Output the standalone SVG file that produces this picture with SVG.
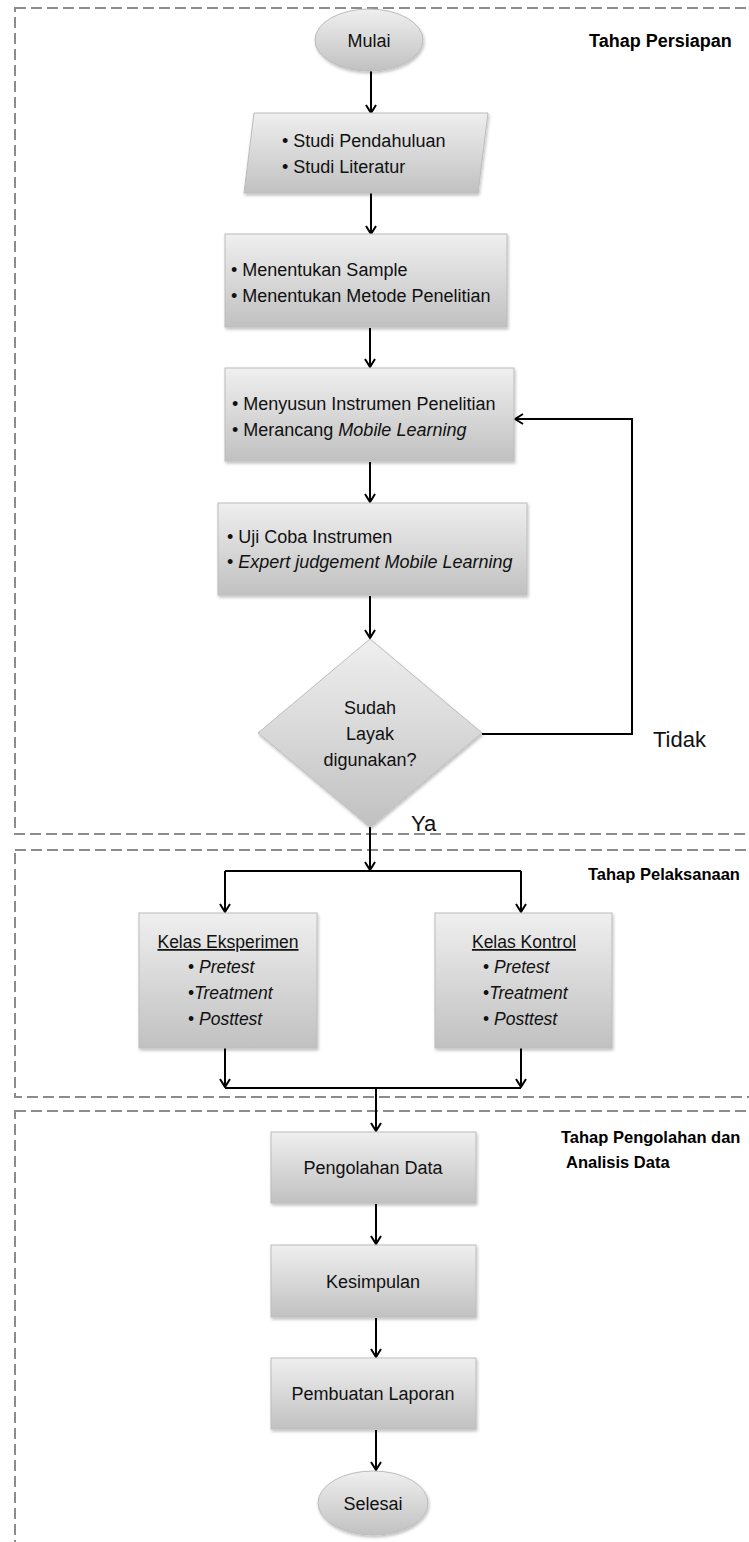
<svg xmlns="http://www.w3.org/2000/svg" width="749" height="1542" viewBox="0 0 749 1542">
<style>
.t{font-family:"Liberation Sans",Arial,sans-serif;font-size:18px;fill:#111}
.s{font-size:17.5px}
.i{font-style:italic}
.b{font-weight:bold;fill:#000}
.c{text-anchor:middle}
.box{fill:url(#g);stroke:#bcbcbc;stroke-width:1;filter:url(#sh)}
.sec{fill:none;stroke:#8c8c8c;stroke-width:2;stroke-dasharray:11 5}
.ln{fill:none;stroke:#000;stroke-width:2}
.ar{marker-end:url(#arr)}
</style>
<defs>
<linearGradient id="g" x1="0" y1="0" x2="0" y2="1">
<stop offset="0" stop-color="#efefef"/>
<stop offset="1" stop-color="#c1c1c1"/>
</linearGradient>
<filter id="sh" x="-10%" y="-10%" width="120%" height="130%">
<feDropShadow dx="1" dy="2" stdDeviation="1.5" flood-color="#000" flood-opacity="0.25"/>
</filter>
<marker id="arr" viewBox="0 0 12 12" refX="11" refY="6" markerWidth="12" markerHeight="12" orient="auto" markerUnits="userSpaceOnUse">
<path d="M3,1 L11,6 L3,11" fill="none" stroke="#000" stroke-width="2"/>
</marker>
</defs>
<rect width="749" height="1542" fill="#fff"/>

<g id="sections">
<rect class="sec" x="15" y="8" width="760" height="826"/>
<rect class="sec" x="15" y="850" width="760" height="247"/>
<rect class="sec" x="15" y="1111" width="760" height="460"/>
<text class="t b" x="589" y="47">Tahap Persiapan</text>
<text class="t b" x="588" y="880" style="font-size:16.5px">Tahap Pelaksanaan</text>
<text class="t b" x="561" y="1143" style="font-size:16.5px">Tahap Pengolahan dan</text>
<text class="t b" x="566" y="1168" style="font-size:16.5px">Analisis Data</text>
</g>

<g id="connectors">
<path class="ln ar" d="M371,71 V113"/>
<path class="ln ar" d="M371,193 V234"/>
<path class="ln ar" d="M370,328 V367"/>
<path class="ln ar" d="M370,462 V502"/>
<path class="ln ar" d="M370,596 V638"/>
<path class="ln ar" d="M482,734 H632 V419 H515"/>
<path class="ln ar" d="M370,827 V870"/>
<path class="ln" d="M225,871 H521"/>
<path class="ln ar" d="M225,871 V912"/>
<path class="ln ar" d="M521,871 V912"/>
<path class="ln ar" d="M225,1048 V1087"/>
<path class="ln ar" d="M521,1048 V1087"/>
<path class="ln" d="M225,1088 H521"/>
<path class="ln ar" d="M376,1088 V1131"/>
<path class="ln ar" d="M376,1204 V1244"/>
<path class="ln ar" d="M376,1318 V1357"/>
<path class="ln ar" d="M376,1430 V1470"/>
<text class="t" x="653" y="747" style="font-size:22px">Tidak</text>
<text class="t" x="411" y="831" style="font-size:22px">Ya</text>
</g>

<g id="mulai">
<ellipse class="box" cx="369" cy="40" rx="54" ry="31"/>
<text class="t c" x="369" y="47">Mulai</text>
</g>

<g id="studi">
<polygon class="box" points="254,113 488,113 478,193 244,193"/>
<text class="t" x="282" y="147">• Studi Pendahuluan</text>
<text class="t" x="282" y="173">• Studi Literatur</text>
</g>

<g id="menentukan">
<rect class="box" x="225" y="234" width="282" height="93"/>
<text class="t" x="231" y="276">• Menentukan Sample</text>
<text class="t" x="231" y="302">• Menentukan Metode Penelitian</text>
</g>

<g id="menyusun">
<rect class="box" x="225" y="368" width="289" height="93"/>
<text class="t" x="232" y="410">• Menyusun Instrumen Penelitian</text>
<text class="t" x="232" y="436">• Merancang <tspan class="i">Mobile Learning</tspan></text>
</g>

<g id="ujicoba">
<rect class="box" x="218" y="503" width="309" height="92"/>
<text class="t" x="227" y="543">• Uji Coba Instrumen</text>
<text class="t" x="227" y="568">• <tspan class="i">Expert judgement Mobile Learning</tspan></text>
</g>

<g id="keputusan">
<polygon class="box" points="370,639 482,733 370,827 258,733"/>
<text class="t c" x="370" y="714">Sudah</text>
<text class="t c" x="370" y="740">Layak</text>
<text class="t c" x="370" y="766">digunakan?</text>
</g>

<g id="eksperimen">
<rect class="box" x="139" y="913" width="178" height="135"/>
<text class="t s c" x="228" y="948" text-decoration="underline">Kelas Eksperimen</text>
<text class="t s" x="188" y="973">• <tspan class="i">Pretest</tspan></text>
<text class="t s" x="188" y="999">•<tspan class="i">Treatment</tspan></text>
<text class="t s" x="188" y="1025">• <tspan class="i">Posttest</tspan></text>
</g>

<g id="kontrol">
<rect class="box" x="435" y="913" width="177" height="135"/>
<text class="t s c" x="524" y="948" text-decoration="underline">Kelas Kontrol</text>
<text class="t s" x="483" y="973">• <tspan class="i">Pretest</tspan></text>
<text class="t s" x="483" y="999">•<tspan class="i">Treatment</tspan></text>
<text class="t s" x="483" y="1025">• <tspan class="i">Posttest</tspan></text>
</g>

<g id="pengolahan">
<rect class="box" x="271" y="1132" width="205" height="71"/>
<text class="t c" x="373" y="1174">Pengolahan Data</text>
</g>

<g id="kesimpulan">
<rect class="box" x="271" y="1245" width="205" height="72"/>
<text class="t c" x="373" y="1288">Kesimpulan</text>
</g>

<g id="laporan">
<rect class="box" x="271" y="1358" width="205" height="71"/>
<text class="t c" x="373" y="1400">Pembuatan Laporan</text>
</g>

<g id="selesai">
<ellipse class="box" cx="373" cy="1503" rx="55" ry="32"/>
<text class="t c" x="373" y="1510">Selesai</text>
</g>
</svg>
